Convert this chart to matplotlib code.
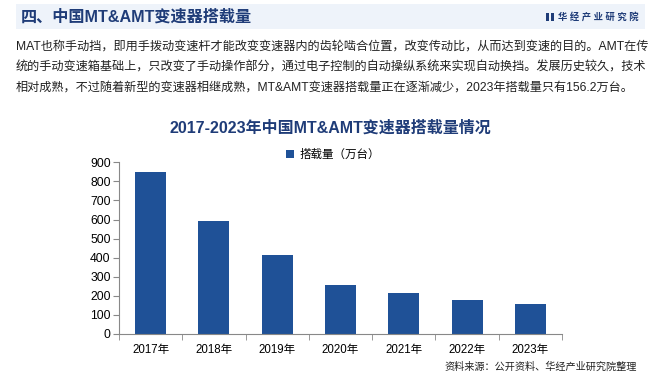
import matplotlib

matplotlib.use("Agg")

from matplotlib import pyplot as plt  # noqa: E402
from matplotlib.patches import Rectangle  # noqa: E402
from matplotlib.ticker import FixedLocator  # noqa: E402

plt.rcParams["font.family"] = ["Liberation Sans", "Noto Sans CJK SC", "DejaVu Sans"]

years = ["2017年", "2018年", "2019年", "2020年", "2021年", "2022年", "2023年"]
volume = [850, 592, 414, 257, 213, 178, 156.2]
y_ticks = [0, 100, 200, 300, 400, 500, 600, 700, 800, 900]

header = "四、中国MT&AMT变速器搭载量"
brand = "华 经 产 业 研 究 院"
paragraph = [
    "MAT也称手动挡，即用手拨动变速杆才能改变变速器内的齿轮啮合位置，改变传动比，从而达到变速的目的。AMT在传",
    "统的手动变速箱基础上，只改变了手动操作部分，通过电子控制的自动操纵系统来实现自动换挡。发展历史较久，技术",
    "相对成熟，不过随着新型的变速器相继成熟，MT&AMT变速器搭载量正在逐渐减少，2023年搭载量只有156.2万台。",
]
chart_title = "2017-2023年中国MT&AMT变速器搭载量情况"
legend_label = "搭载量（万台）"
source = "资料来源：公开资料、华经产业研究院整理"

W, H = 660, 375
bar_color = "#1F5197"
title_color = "#1F3C78"

fig = plt.figure(figsize=(W / 100, H / 100), dpi=100)
fig.patch.set_facecolor("white")


def fx(px):
    return px / W


def fy(py):
    return 1 - py / H


# header band
fig.patches.append(
    Rectangle((fx(16), fy(29)), fx(629), 25 / H, transform=fig.transFigure,
              facecolor="#EEF3FA", edgecolor="none", zorder=0)
)
fig.text(fx(21), fy(17), header, fontsize=11.6, fontweight="bold",
         color=title_color, va="center", ha="left")
for off in (0, 5):
    fig.patches.append(
        Rectangle((fx(546 + off), fy(21)), fx(3), 8 / H, transform=fig.transFigure,
                  facecolor=title_color, edgecolor="none")
    )
fig.text(fx(558), fy(17), brand, fontsize=6.7, fontweight="bold",
         color=title_color, va="center", ha="left")

for i, line in enumerate(paragraph):
    fig.text(fx(16), fy(47 + i * 20.5), line, fontsize=8.75, color="#222222",
             va="center", ha="left")

fig.text(fx(330), fy(128), chart_title, fontsize=11.5, fontweight="bold",
         color=title_color, va="center", ha="center")

ax = fig.add_axes([fx(119), fy(334), fx(562 - 119), (334 - 162.3) / H])
x = range(len(years))
ax.bar(x, volume, width=0.49, color=bar_color, label=legend_label, zorder=2)

ax.set_xlim(-0.5, len(years) - 0.5)
ax.set_ylim(0, 900)
ax.set_yticks(y_ticks)
ax.set_xticks(list(x))
ax.set_xticklabels(years)
ax.xaxis.set_minor_locator(FixedLocator([i - 0.5 for i in range(len(years) + 1)]))
ax.tick_params(axis="x", which="major", length=0, pad=7, labelsize=8.3)
ax.tick_params(axis="x", which="minor", length=4, color="#888888", direction="out")
ax.tick_params(axis="y", length=4, color="#888888", labelsize=8.7, pad=2)
for side in ("top", "right"):
    ax.spines[side].set_visible(False)
for side in ("left", "bottom"):
    ax.spines[side].set_color("#888888")
    ax.spines[side].set_linewidth(0.8)

ax.legend(loc="center", bbox_to_anchor=(fx(333), fy(155)),
          bbox_transform=fig.transFigure, frameon=False, fontsize=8.3,
          handlelength=0.7, handleheight=0.7, handletextpad=0.4)

fig.text(fx(637), fy(367), source, fontsize=7.3, color="#222222",
         va="center", ha="right")

fig.savefig("out.png", dpi=100)
plt.close(fig)
